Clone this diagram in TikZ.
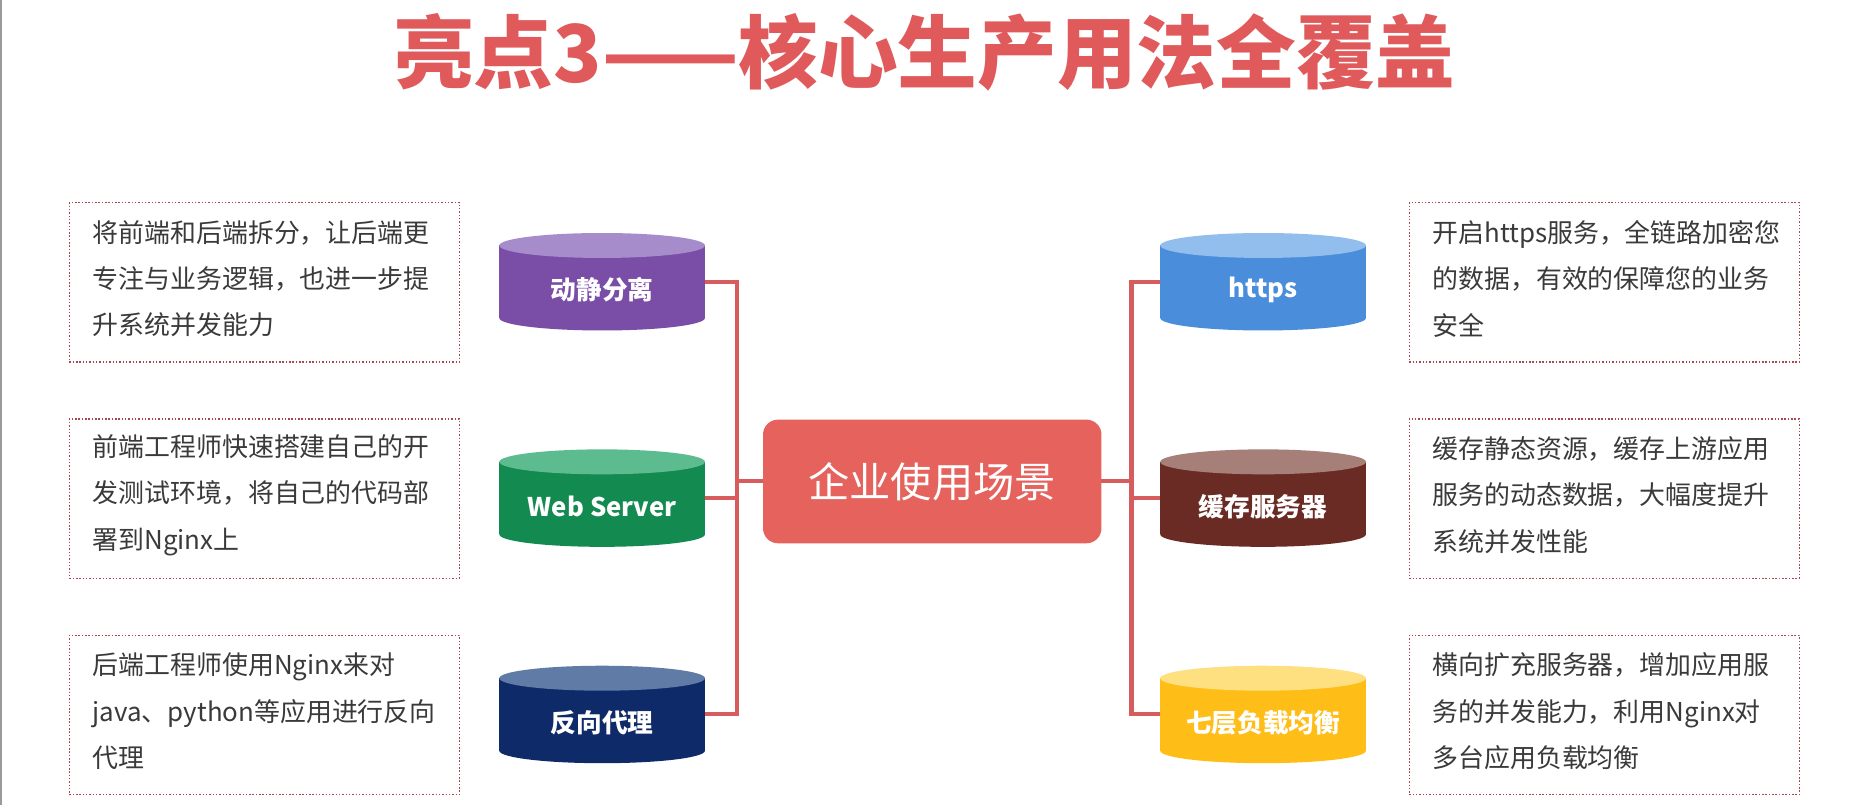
\documentclass[tikz,border=0pt]{standalone}
\usepackage{fontspec}
\setmainfont{Noto Sans CJK SC}
\usetikzlibrary{calc}
\definecolor{titlered}{HTML}{E05A5B}
\definecolor{hubred}{HTML}{E5625D}
\definecolor{linkred}{HTML}{D65C5E}
\definecolor{boxred}{HTML}{A8474F}
\definecolor{txt}{HTML}{3A3A3A}
\definecolor{edgegray}{HTML}{9A9A9A}
\definecolor{purpleB}{HTML}{7A4DA7}
\definecolor{purpleT}{HTML}{A68CCB}
\definecolor{greenB}{HTML}{138A4F}
\definecolor{greenT}{HTML}{5DBB90}
\definecolor{navyB}{HTML}{0F2A69}
\definecolor{navyT}{HTML}{5F7BA6}
\definecolor{blueB}{HTML}{4A8DDB}
\definecolor{blueT}{HTML}{91BEEC}
\definecolor{brownB}{HTML}{6A2B24}
\definecolor{brownT}{HTML}{A77F79}
\definecolor{yellowB}{HTML}{FFBD17}
\definecolor{yellowT}{HTML}{FFE080}
\newcommand\mycyl[6]{%
  \fill[#4] (#2-86.5,#3-30.5) rectangle (#2+86.5,#3+30.5);
  \fill[#4] (#2,#3+30.5) ellipse [x radius=86.5, y radius=10.5];
  \fill[#5] (#2,#3-30.5) ellipse [x radius=86.5, y radius=10.5];
  \node[cylnode] (#1) at (#2,#3) {};
  \node[cyllabel] (#1-l) at ($(#1.center)+(0,7)$) {#6};
}
\newcommand\mydesc[4]{%
  \node[descbox] (#1) at (#2,#3) {};
  \node[desctext] (#1-t) at ($(#1.center)+(0,-3)$) {#4};
}
\begin{document}
\begin{tikzpicture}[x=1pt,y=-1pt,
  descbox/.style={draw=boxred, line width=1.2pt, dash pattern=on 1.2pt off 1.6pt,
    minimum width=328pt, minimum height=134pt, inner sep=0pt},
  desctext/.style={text width=289pt, inner sep=0pt, align=left, text=txt,
    font=\fontsize{21.8pt}{39pt}\selectfont},
  cylnode/.style={minimum width=173pt, minimum height=82pt, inner sep=0pt, outer sep=0pt},
  cyllabel/.style={text=white, font=\fontsize{21.6pt}{24pt}\selectfont\bfseries, inner sep=0pt},
  hubbox/.style={fill=hubred, rounded corners=12.6pt, minimum width=284.7pt, minimum height=104pt,
    text=white, font=\fontsize{34.7pt}{38pt}\selectfont, inner sep=0pt, outer sep=0pt},
  link/.style={draw=linkred, line width=3.4pt},
  titletext/.style={text=titlered, font=\fontsize{67pt}{70pt}\selectfont\bfseries, inner sep=0pt}
]
\useasboundingbox (0,0) rectangle (1568,677);
\fill[white] (0,0) rectangle (1568,677);
\draw[edgegray, line width=1.4pt] (0.7,0) -- (0.7,677);

\node[titletext] (title) at (778,44) {亮点3——核心生产用法全覆盖};

% cylinders
\mycyl{c1}{506.5}{237}{purpleB}{purpleT}{动静分离}
\mycyl{c2}{506.5}{419}{greenB}{greenT}{Web Server}
\mycyl{c3}{506.5}{601}{navyB}{navyT}{反向代理}
\mycyl{r1}{1062.5}{237}{blueB}{blueT}{https}
\mycyl{r2}{1062.5}{419}{brownB}{brownT}{缓存服务器}
\mycyl{r3}{1062.5}{601}{yellowB}{yellowT}{七层负载均衡}

% hub
\node[hubbox] (hub) at (784.2,405) {企业使用场景};
\coordinate (jl) at (619.6,405);
\coordinate (jr) at (951.8,405);

\draw[link] (c1.east) -| (jl);
\draw[link] (c3.east) -| (jl);
\draw[link] (c2.east) -- (c2.east -| jl);
\draw[link] (jl) -- (hub.west);
\draw[link] (r1.west) -| (jr);
\draw[link] (r3.west) -| (jr);
\draw[link] (r2.west) -- (r2.west -| jr);
\draw[link] (jr) -- (hub.east);

% description boxes
\mydesc{d1}{222.4}{237.5}{将前端和后端拆分，让后端更\\专注与业务逻辑，也进一步提\\升系统并发能力}
\mydesc{d2}{222.4}{419.5}{前端工程师快速搭建自己的开\\发测试环境，将自己的代码部\\署到Nginx上}
\mydesc{d3}{222.4}{601.5}{后端工程师使用Nginx来对\\java、python等应用进行反向\\代理}
\mydesc{e1}{1349.5}{237.5}{开启https服务，全链路加密您\\的数据，有效的保障您的业务\\安全}
\mydesc{e2}{1349.5}{419.5}{缓存静态资源，缓存上游应用\\服务的动态数据，大幅度提升\\系统并发性能}
\mydesc{e3}{1349.5}{601.5}{横向扩充服务器，增加应用服\\务的并发能力，利用Nginx对\\多台应用负载均衡}
\end{tikzpicture}
\end{document}
